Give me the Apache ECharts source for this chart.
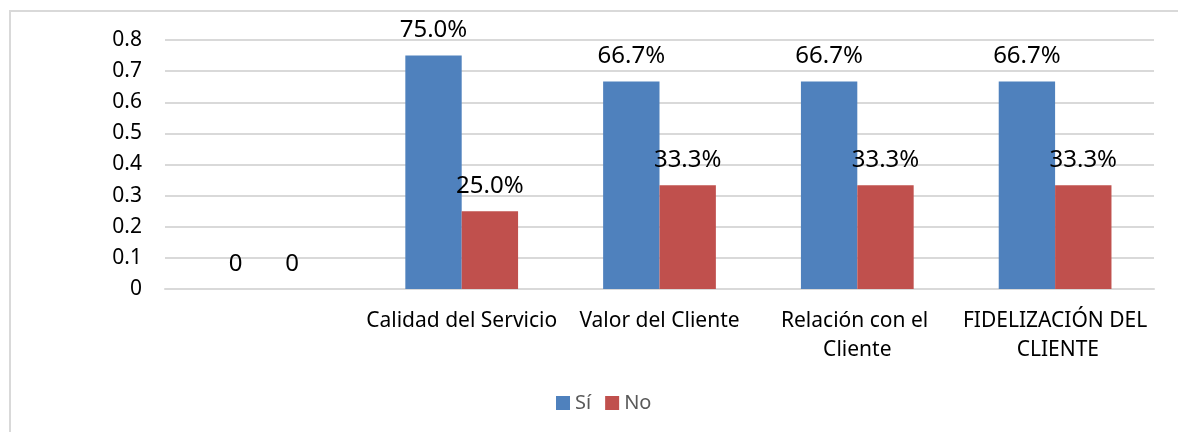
<!DOCTYPE html>
<html>
<head>
<meta charset="utf-8">
<script src="https://cdn.jsdelivr.net/npm/echarts@6/dist/echarts.min.js"></script>
<style>
html,body{margin:0;padding:0;background:#fff;overflow:hidden;}
#frame{position:absolute;left:9px;top:10px;width:1300px;height:600px;border-left:2px solid #d9d9d9;border-top:2px solid #d9d9d9;box-sizing:border-box;}
#chart{position:absolute;left:0;top:0;width:1178px;height:432px;}
</style>
</head>
<body>
<div id="frame"></div>
<div id="chart"></div>
<script>
var categories = ["", "Calidad del Servicio", "Valor del Cliente", "Relación con el Cliente", "FIDELIZACIÓN DEL CLIENTE"];
var seriesNames = ["Sí", "No"];
var siValues = [0, 0.75, 0.667, 0.667, 0.667];
var noValues = [0, 0.25, 0.333, 0.333, 0.333];
var yTicks = { min: 0, max: 0.8, interval: 0.1 };

var font = "Noto Sans";
function fmt(p) {
  return p.value === 0 ? "0" : (p.value * 100).toFixed(1) + "%";
}
var labelStyle = {
  show: true, position: "top", distance: 13,
  fontFamily: font, fontSize: 24, color: "#000",
  formatter: fmt
};
var chart = echarts.init(document.getElementById("chart"), null, { renderer: "canvas" });
chart.setOption({
  backgroundColor: "transparent",
  animation: false,
  color: ["#4F81BD", "#C0504D"],
  grid: { left: 165, right: 24, top: 40, bottom: 143, containLabel: false },
  legend: {
    data: seriesNames,
    left: 551, top: 388,
    icon: "rect", itemWidth: 14, itemHeight: 14, itemGap: 14,
    textStyle: { fontFamily: font, fontSize: 20, color: "#595959" }
  },
  xAxis: {
    type: "category",
    data: categories,
    axisLine: { show: true, lineStyle: { color: "#d9d9d9", width: 2 } },
    axisTick: { show: false },
    axisLabel: {
      interval: 0, margin: 18, width: 192, overflow: "break",
      fontFamily: font, fontSize: 21, color: "#000", lineHeight: 29
    }
  },
  yAxis: {
    type: "value",
    min: yTicks.min, max: yTicks.max, interval: yTicks.interval,
    axisLine: { show: false },
    axisTick: { show: false },
    splitLine: { lineStyle: { color: "#d9d9d9", width: 2 } },
    axisLabel: {
      margin: 23, fontFamily: font, fontSize: 21, color: "#000",
      formatter: function (v) { return v === 0 ? "0" : v.toFixed(1); }
    }
  },
  series: [
    { name: seriesNames[0], type: "bar", data: siValues, barGap: "0%", barCategoryGap: "43%", label: labelStyle },
    { name: seriesNames[1], type: "bar", data: noValues, barGap: "0%", barCategoryGap: "43%", label: labelStyle }
  ]
});
</script>
</body>
</html>
